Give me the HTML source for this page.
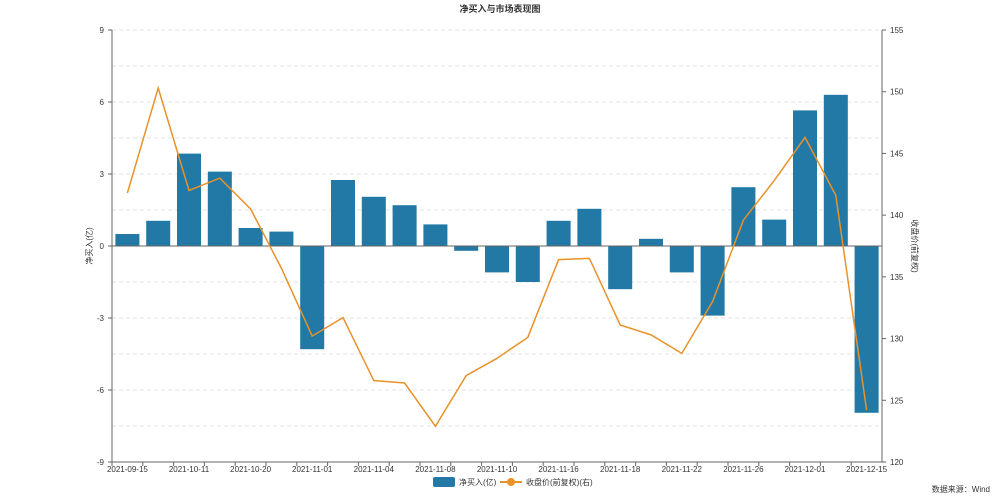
<!DOCTYPE html>
<html><head><meta charset="utf-8"><style>
body{margin:0;background:#fff;font-family:"Liberation Sans","Noto Sans CJK SC",sans-serif;}
svg text{font-family:"Liberation Sans","Noto Sans CJK SC",sans-serif;}
</style></head><body>
<svg id="chart" width="1000" height="498" viewBox="0 0 1000 498" xmlns="http://www.w3.org/2000/svg">
<text x="500" y="12" text-anchor="middle" font-size="9" font-weight="bold" fill="#333">净买入与市场表现图</text>
<g id="grid"></g><g id="bars"></g><g id="axes"></g><g id="line"></g>
<g>
<rect x="433" y="477" width="22" height="10" fill="#2279a6" rx="2"/>
<text x="459" y="485" font-size="8" fill="#333">净买入(亿)</text>
<line x1="500" y1="482" x2="522" y2="482" stroke="#e8922a" stroke-width="2"/>
<circle cx="511" cy="482" r="4" fill="#e8922a"/>
<text x="526" y="485" font-size="8" fill="#333">收盘价(前复权)(右)</text>
</g>
<text x="990" y="492" text-anchor="end" font-size="8" fill="#333">数据来源：Wind</text>
<text transform="translate(92,246) rotate(-90)" text-anchor="middle" font-size="8" fill="#333">净买入(亿)</text>
<text transform="translate(912,246) rotate(90)" text-anchor="middle" font-size="8" fill="#333">收盘价(前复权)</text>
</svg>
<script>
const dates=["2021-09-15","2021-09-28","2021-10-11","2021-10-15","2021-10-20","2021-10-26","2021-11-01","2021-11-02","2021-11-04","2021-11-05","2021-11-08","2021-11-09","2021-11-10","2021-11-12","2021-11-16","2021-11-17","2021-11-18","2021-11-19","2021-11-22","2021-11-24","2021-11-26","2021-11-30","2021-12-01","2021-12-08","2021-12-15"];
const netBuy=[0.5,1.05,3.85,3.1,0.75,0.6,-4.3,2.75,2.05,1.7,0.9,-0.2,-1.1,-1.5,1.05,1.55,-1.8,0.3,-1.1,-2.9,2.45,1.1,5.65,6.3,-6.95];
const closePrice=[141.8,150.3,142,143,140.5,135.7,130.2,131.7,126.6,126.4,122.9,127,128.4,130.1,136.4,136.5,131.1,130.3,128.8,133,139.6,142.8,146.3,141.6,124.2];
const leftTicks=[-9,-6,-3,0,3,6,9];
const rightTicks=[120,125,130,135,140,145,150,155];
const NS="http://www.w3.org/2000/svg";
const X0=112,X1=882,Y0=30,Y1=462;
const band=(X1-X0)/dates.length;
const xc=i=>X0+band*(i+0.5);
const yl=v=>Y1-(v+9)/18*(Y1-Y0);
const yr=v=>Y1-(v-120)/35*(Y1-Y0);
function mk(tag,attrs,parent){const e=document.createElementNS(NS,tag);for(const k in attrs)e.setAttribute(k,attrs[k]);document.getElementById(parent).appendChild(e);return e;}
for(let v=-9;v<=9;v+=1.5){if(v===0)continue;const g=mk('line',{x1:X0,x2:X1,y1:yl(v),y2:yl(v),stroke:'#e3e3e3','stroke-dasharray':'4,3'},'grid');

}
netBuy.forEach((v,i)=>{const w=band*0.78;const r=mk('rect',{x:xc(i)-w/2,y:Math.min(yl(v),yl(0)),width:w,height:Math.abs(yl(v)-yl(0)),fill:'#2279a6'},'bars');

});
mk('line',{x1:X0,x2:X0,y1:Y0,y2:Y1,stroke:'#666'},'axes');
mk('line',{x1:X1,x2:X1,y1:Y0,y2:Y1,stroke:'#666'},'axes');
mk('line',{x1:X0,x2:X1,y1:yl(0),y2:yl(0),stroke:'#666'},'axes');
mk('line',{x1:X0,x2:X1,y1:Y1,y2:Y1,stroke:'#666'},'axes');
leftTicks.forEach(v=>{mk('line',{x1:X0-4,x2:X0,y1:yl(v),y2:yl(v),stroke:'#666'},'axes');const t=mk('text',{x:X0-8,y:yl(v)+3,'text-anchor':'end','font-size':8,fill:'#333'},'axes');t.textContent=v;

});
rightTicks.forEach(v=>{mk('line',{x1:X1,x2:X1+4,y1:yr(v),y2:yr(v),stroke:'#666'},'axes');const t=mk('text',{x:X1+8,y:yr(v)+3,'font-size':8,fill:'#333'},'axes');t.textContent=v;

});
dates.forEach((d,i)=>{mk('line',{x1:X0+band*i,x2:X0+band*i,y1:Y1,y2:Y1+4,stroke:'#666'},'axes');if(i%2===0){const t=mk('text',{x:xc(i),y:Y1+10,'text-anchor':'middle','font-size':8,fill:'#333'},'axes');t.textContent=d;

}});
const p=mk('polyline',{points:closePrice.map((v,i)=>xc(i)+','+yr(v)).join(' '),fill:'none',stroke:'#e8922a','stroke-width':1.5},'line');


</script>
</body></html>
